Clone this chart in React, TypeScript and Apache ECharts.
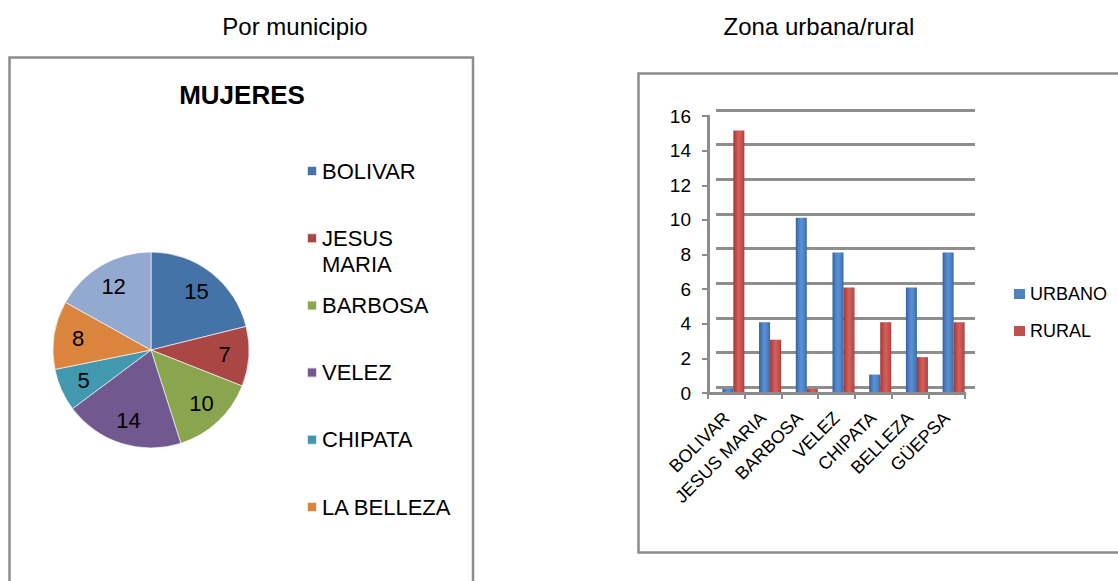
import React, { useEffect, useRef } from "react";
import * as echarts from "echarts";

// ---------- data ----------
const pieTitle = "MUJERES";
const pieNames = ["BOLIVAR", "JESUS MARIA", "BARBOSA", "VELEZ", "CHIPATA", "LA BELLEZA", "GÜEPSA"];
const pieValues = [15, 7, 10, 14, 5, 8, 12];
const pieColors = ["#4572a7", "#aa4643", "#89a54e", "#71588f", "#4198af", "#db843d", "#93a9cf"];
const pieLegendShown = 6; // the last legend entry is cut off by the frame

const barCategories = ["BOLIVAR", "JESUS MARIA", "BARBOSA", "VELEZ", "CHIPATA", "BELLEZA", "GÜEPSA"];
const urbanoValues = [0, 4, 10, 8, 1, 6, 8];
const ruralValues = [15, 3, 0, 6, 4, 2, 4];
const seriesNames = ["URBANO", "RURAL"];
const yMin = 0;
const yMax = 16;
const yStep = 2;

const leftHeader = "Por municipio";
const rightHeader = "Zona urbana/rural";

// ---------- layout / style ----------
const FONT = "'Liberation Sans', Arial, sans-serif";
const PIE_CX = 151;
const PIE_CY = 350;
const PIE_R = 98;
const FRAME = "#8c8c8c";

function measure(text: string, size: number) {
  const c = document.createElement("canvas").getContext("2d");
  if (!c) return text.length * size * 0.6;
  c.font = `${size}px ${FONT}`;
  return c.measureText(text).width;
}

function grad(stops: string[]) {
  return new echarts.graphic.LinearGradient(
    0, 0, 1, 0,
    stops.map((color, i) => ({ offset: i / (stops.length - 1), color }))
  );
}

export default function App() {
  const ref = useRef<HTMLDivElement>(null);

  useEffect(() => {
    if (!ref.current) return;
    const chart = echarts.init(ref.current, undefined, { renderer: "svg" });

    const LEG_SIZE = 22;
    const LEG_LH = 26;
    const LEG_MAXW = 136;
    const pieLegends = pieNames.slice(0, pieLegendShown).map((name, i) => {
      const c = 171 + 67.2 * i;
      const multi = measure(name, LEG_SIZE) > LEG_MAXW;
      return {
        orient: "vertical",
        left: 306,
        top: multi ? c - LEG_LH * 1.5 : c - LEG_LH / 2,
        padding: 0,
        itemWidth: 10,
        itemHeight: 10,
        icon: "rect",
        selectedMode: false,
        data: [name],
        // a leading empty line keeps the first wrapped line level with the marker
        formatter: multi ? (n: string) => "\n" + n : undefined,
        textStyle: {
          fontFamily: FONT,
          fontSize: LEG_SIZE,
          lineHeight: LEG_LH,
          color: "#000",
          width: LEG_MAXW,
          overflow: "break",
        },
      };
    });

    const barColors = ["#4f81bd", "#c0504d"];
    const barGrads = [
      grad(["#2f5f9f", "#4a7fc4", "#5b90d4", "#4e82c4", "#3a69a8"]),
      grad(["#9c3835", "#c04d49", "#d2605c", "#c6534f", "#a6413e"]),
    ];

    const axisFont = { fontFamily: FONT, color: "#000" };

    const option: any = {
      animation: false,
      backgroundColor: "#fff",
      graphic: [
        {
          type: "rect",
          shape: { x: 9.5, y: 57.5, width: 463.5, height: 600 },
          style: { fill: "none", stroke: FRAME, lineWidth: 2.5 },
          z: -10,
        },
        {
          type: "rect",
          shape: { x: 638.5, y: 73.5, width: 600, height: 479 },
          style: { fill: "none", stroke: FRAME, lineWidth: 2.5 },
          z: -10,
        },
        {
          type: "text",
          x: 295,
          y: 26,
          style: { text: leftHeader, font: `24px ${FONT}`, fill: "#000", align: "center", verticalAlign: "middle" },
        },
        {
          type: "text",
          x: 819,
          y: 26,
          style: { text: rightHeader, font: `24px ${FONT}`, fill: "#000", align: "center", verticalAlign: "middle" },
        },
        {
          type: "text",
          x: 242,
          y: 95,
          style: { text: pieTitle, font: `bold 26px ${FONT}`, fill: "#000", align: "center", verticalAlign: "middle" },
        },
      ],
      legend: [
        ...pieLegends,
        {
          orient: "vertical",
          left: 1014,
          top: 283.5,
          padding: 0,
          itemWidth: 11,
          itemHeight: 10,
          itemGap: 16,
          icon: "rect",
          selectedMode: false,
          data: seriesNames.map((n, i) => ({ name: n, itemStyle: { color: barColors[i] } })),
          textStyle: { fontFamily: FONT, fontSize: 18, lineHeight: 21, color: "#000" },
        },
      ],
      grid: [
        // front axes
        { left: 708, top: 116, width: 257, height: 277 },
        // back wall (gridlines)
        { left: 716, top: 110, width: 259, height: 277 },
        // bars
        { left: 715, top: 113, width: 257, height: 279 },
      ],
      xAxis: [
        {
          type: "category",
          gridIndex: 0,
          data: barCategories,
          axisLine: { lineStyle: { color: "#8c8c8c", width: 3 } },
          axisTick: { show: true, length: 6, lineStyle: { color: "#8c8c8c", width: 2 } },
          axisLabel: { ...axisFont, fontSize: 18, rotate: 45, interval: 0, margin: 22 },
          splitLine: { show: false },
        },
        { type: "category", gridIndex: 1, data: barCategories, show: false },
        { type: "category", gridIndex: 2, data: barCategories, show: false },
      ],
      yAxis: [
        {
          type: "value",
          gridIndex: 0,
          min: yMin,
          max: yMax,
          interval: yStep,
          axisLine: { show: true, lineStyle: { color: "#8c8c8c", width: 3 } },
          axisTick: { show: true, length: 6, lineStyle: { color: "#8c8c8c", width: 2 } },
          axisLabel: { ...axisFont, fontSize: 19, margin: 17 },
          splitLine: { show: false },
        },
        {
          type: "value",
          gridIndex: 1,
          min: yMin,
          max: yMax,
          interval: yStep,
          axisLine: { show: false },
          axisTick: { show: false },
          axisLabel: { show: false },
          splitLine: { show: true, lineStyle: { color: "#8e8e8e", width: 3 } },
        },
        {
          type: "value",
          gridIndex: 2,
          min: yMin,
          max: yMax,
          interval: yStep,
          show: false,
        },
      ],
      series: [
        {
          type: "pie",
          center: [PIE_CX, PIE_CY],
          radius: PIE_R,
          startAngle: 90,
          clockwise: true,
          data: pieNames.map((name, i) => ({
            name,
            value: pieValues[i],
            itemStyle: { color: pieColors[i] },
          })),
          itemStyle: { borderColor: "rgba(255,255,255,0.8)", borderWidth: 0.8 },
          label: {
            show: true,
            position: "inside",
            formatter: "{c}",
            fontFamily: FONT,
            fontSize: 22,
            color: "#000",
          },
          labelLine: { show: false },
          labelLayout: (p: any) => {
            const r = p.labelRect;
            const lx = r.x + r.width / 2;
            const ly = r.y + r.height / 2;
            return { x: PIE_CX + (lx - PIE_CX) * 1.42, y: PIE_CY + (ly - PIE_CY) * 1.42 };
          },
          emphasis: { disabled: true },
        },
        ...[urbanoValues, ruralValues].map((vals, i) => ({
          type: "bar",
          name: seriesNames[i],
          xAxisIndex: 2,
          yAxisIndex: 2,
          data: vals,
          barWidth: 11,
          barGap: "0%",
          barMinHeight: 3,
          itemStyle: { color: barGrads[i] },
          emphasis: { disabled: true },
        })),
      ],
    };

    chart.setOption(option);
    return () => chart.dispose();
  }, []);

  return (
    <div
      ref={ref}
      style={{ position: "fixed", left: 0, top: 0, width: 1118, height: 581, background: "#fff" }}
    />
  );
}
